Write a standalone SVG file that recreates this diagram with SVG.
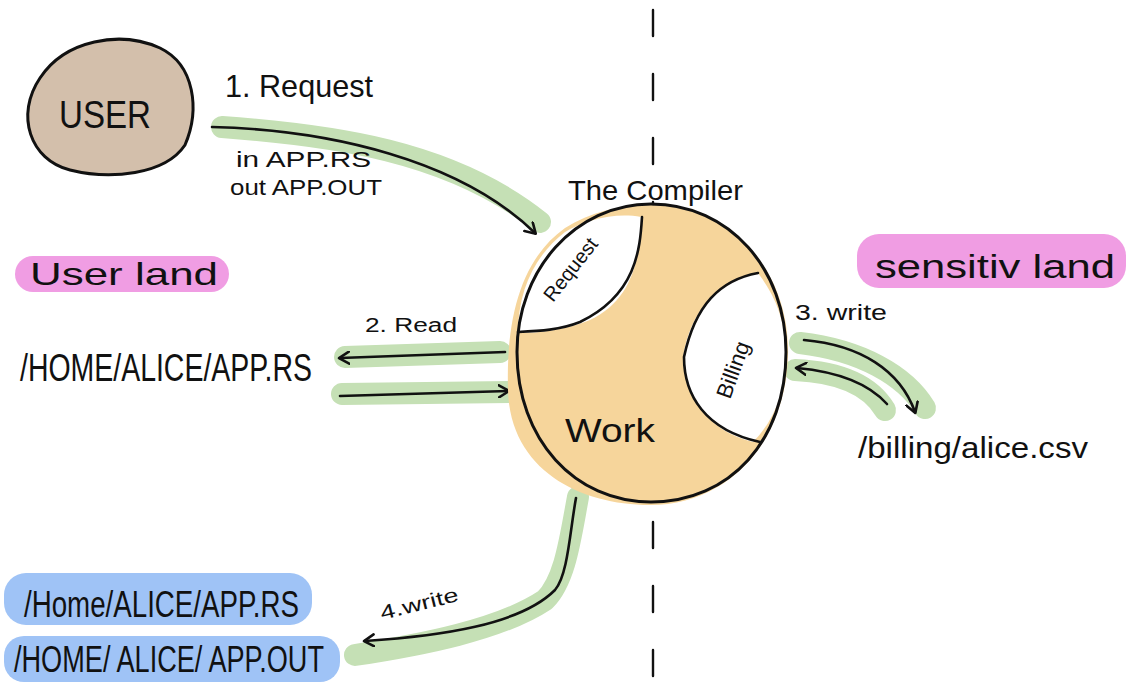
<svg xmlns="http://www.w3.org/2000/svg" width="1126" height="698" viewBox="0 0 1126 698">
<style>
.t{font-family:"Liberation Sans","DejaVu Sans",sans-serif;fill:#111}
.ink{fill:none;stroke:#111;stroke-width:2.6;stroke-linecap:round;stroke-linejoin:round}
.hl{fill:none;stroke:#c5e0b5;stroke-width:22;stroke-linecap:round;stroke-linejoin:round}
.pink{fill:#f09de3}
.blue{fill:#9fc3f6}
</style>
<defs>
<marker id="ah" markerWidth="14" markerHeight="14" refX="10" refY="7" orient="auto" markerUnits="userSpaceOnUse">
<path d="M1,1 L11,7 L1,13" fill="none" stroke="#111" stroke-width="2.6" stroke-linecap="round" stroke-linejoin="round"/>
</marker>
</defs>
<rect width="1126" height="698" fill="#fff"/>

<!-- divider -->
<line x1="653" y1="10" x2="653" y2="698" stroke="#111" stroke-width="2.4" stroke-dasharray="26 38" stroke-linecap="round"/>

<g id="connectors">
<path class="hl" d="M222,127 C330,135 450,150 540,222"/>
<path class="ink" d="M212,127 C330,130 460,160 535,233" marker-end="url(#ah)"/>
<path class="hl" d="M500,352 L345,357"/>
<path class="ink" d="M505,352 L340,358" marker-end="url(#ah)"/>
<path class="hl" d="M342,394 L510,392"/>
<path class="ink" d="M340,396 L508,391" marker-end="url(#ah)"/>
<path class="hl" d="M800,343 C860,350 905,375 925,408"/>
<path class="hl" d="M795,370 C840,372 870,385 885,410"/>
<path class="ink" d="M804,340 C860,345 900,370 915,412" marker-end="url(#ah)"/>
<path class="ink" d="M887,404 C870,385 840,372 797,368" marker-end="url(#ah)"/>
<path class="hl" d="M578,497 C570,540 565,580 545,600 C500,630 420,645 355,655"/>
<path class="ink" d="M576,498 C570,530 568,575 555,590 C520,625 440,636 365,641" marker-end="url(#ah)"/>
</g>

<g id="user">
<path d="M40,78 C65,40 120,30 160,48 C195,65 200,110 185,145 C165,175 110,180 70,170 C30,160 15,115 40,78 Z" fill="#d3bfab" stroke="#111" stroke-width="3"/>
<text class="t" x="105" y="128" font-size="38" text-anchor="middle" textLength="92" lengthAdjust="spacingAndGlyphs">USER</text>
</g>

<g id="request-label">
<text class="t" x="225" y="97" font-size="32" textLength="148" lengthAdjust="spacingAndGlyphs">1. Request</text>
<text class="t" x="236" y="167" font-size="22" textLength="135" lengthAdjust="spacingAndGlyphs">in APP.RS</text>
<text class="t" x="230" y="195" font-size="22" textLength="152" lengthAdjust="spacingAndGlyphs">out APP.OUT</text>
</g>

<g id="compiler">
<path d="M650,205 C730,205 790,270 788,355 C786,440 730,505 650,505 C580,505 510,470 508,390 C506,320 520,260 565,228 C590,212 620,205 650,205 Z" fill="#f6d59b"/>
<path d="M641,217 C640,260 632,300 590,320 C565,330 540,333 518,333 C518,290 535,255 565,232 C585,220 615,212 641,217 Z" fill="#fff"/>
<path d="M758,273 C720,280 690,310 683,357 C685,395 705,430 753,442 C775,420 786,390 786,352 C785,320 775,295 758,273 Z" fill="#fff"/>
<path d="M651,204 C730,204 786,270 786,352 C786,440 730,502 651,502 C575,502 517,440 517,352 C517,270 575,204 651,204 Z" fill="none" stroke="#111" stroke-width="3"/>
<path class="ink" d="M642,217 C640,250 636,295 580,322 C560,330 540,331 518,332"/>
<path class="ink" d="M758,273 C720,280 695,305 684,357 C684,395 705,430 760,442"/>
<text class="t" x="568" y="200" font-size="28" textLength="175" lengthAdjust="spacingAndGlyphs">The Compiler</text>
<text class="t" font-size="20" transform="translate(553,303) rotate(-52)">Request</text>
<text class="t" font-size="22" transform="translate(730,400) rotate(-70)">Billing</text>
<text class="t" x="565" y="442" font-size="34" textLength="90" lengthAdjust="spacingAndGlyphs">Work</text>
</g>

<g id="user-land">
<rect class="pink" x="15" y="256" width="214" height="36" rx="18"/>
<text class="t" x="30" y="285" font-size="32" textLength="188" lengthAdjust="spacingAndGlyphs">User land</text>
</g>

<g id="sensitiv-land">
<rect class="pink" x="857" y="234" width="269" height="54" rx="22"/>
<text class="t" x="875" y="278" font-size="34" textLength="240" lengthAdjust="spacingAndGlyphs">sensitiv land</text>
</g>

<g id="home-app-rs">
<text class="t" x="20" y="381" font-size="38" textLength="292" lengthAdjust="spacingAndGlyphs">/HOME/ALICE/APP.RS</text>
</g>

<g id="read-label">
<text class="t" x="365" y="332" font-size="20" textLength="92" lengthAdjust="spacingAndGlyphs">2. Read</text>
</g>

<g id="write3-label">
<text class="t" x="795" y="320" font-size="22" textLength="92" lengthAdjust="spacingAndGlyphs">3. write</text>
</g>

<g id="billing-file">
<text class="t" x="858" y="458" font-size="30" textLength="230" lengthAdjust="spacingAndGlyphs">/billing/alice.csv</text>
</g>

<g id="write4-label">
<text class="t" font-size="20" transform="translate(382,620) rotate(-14)" textLength="80" lengthAdjust="spacingAndGlyphs">4.write</text>
</g>

<g id="outputs">
<rect class="blue" x="4" y="573" width="308" height="52" rx="22"/>
<rect class="blue" x="4" y="636" width="336" height="46" rx="20"/>
<text class="t" x="24" y="617" font-size="36" textLength="275" lengthAdjust="spacingAndGlyphs">/Home/ALICE/APP.RS</text>
<text class="t" x="14" y="672" font-size="36" textLength="310" lengthAdjust="spacingAndGlyphs">/HOME/ ALICE/ APP.OUT</text>
</g>
</svg>
